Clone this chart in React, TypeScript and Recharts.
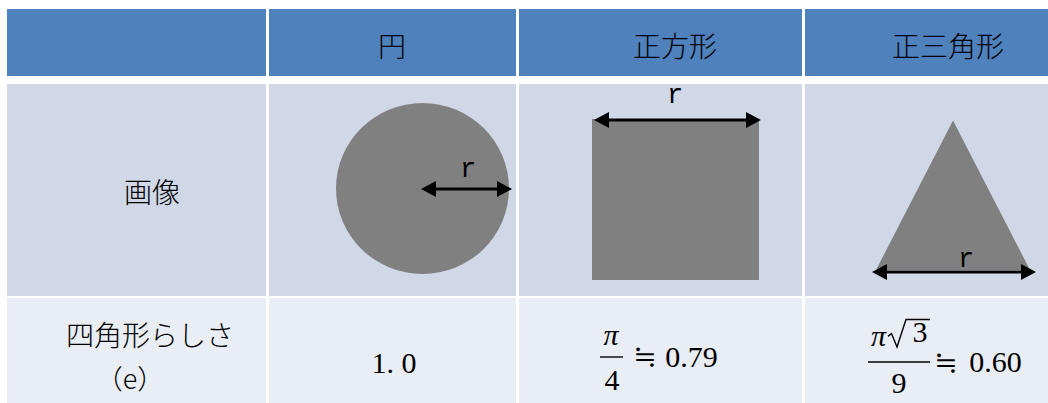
import React from 'react';
import { ComposedChart, XAxis, YAxis, ReferenceArea, ReferenceLine } from 'recharts';

const W = 1048;
const H = 403;

// ---------- content ----------
const columnHeaders = ['', '円', '正方形', '正三角形'];
const rowLabels = ['画像', '四角形らしさ'];
const rowLabelNote = '（e）';
const shapeKinds = ['circle', 'square', 'triangle'];
const radiusLabel = 'r';
const squarenessExact = '1. 0';
const squarenessApprox = ['0.79', '0.60'];
const formulaNumerators = ['π', 'π'];
const formulaRadicand = '3';
const formulaDenominators = ['4', '9'];
const approxSign = '≒';

// ---------- layout (pixel units of the axes) ----------
const colEdges: [number, number][] = [[7, 266], [269, 516], [519, 802], [805, 1048]];
const rowEdges: [number, number][] = [[9, 76], [84, 296], [298, 403]];
const rowFills = ['#4F81BD', '#D0D8E8', '#E9EDF4'];
const SHAPE = '#808080';
const CJK = "'Noto Sans CJK JP', 'Noto Sans CJK SC', sans-serif";
const SERIF = "'Liberation Serif', 'DejaVu Serif', serif";
const MONO = "'Liberation Mono', 'DejaVu Sans Mono', monospace";
const SYM = "'DejaVu Serif', 'DejaVu Sans', serif";

const headerCenters = [0, 392, 675, 948];
const headerY = 45;
const rowLabelPos = [{ x: 152, y: 191 }, { x: 150, y: 334 }];
const notePos = { x: 130, y: 377 };

type TextOpts = { size: number; family: string; italic?: boolean; central?: boolean; weight?: number };
type TextItem = { key: string; value: string; x: number; y: number; o: TextOpts };

const cjk: TextOpts = { size: 28, family: CJK, central: true, weight: 300 };
const rOpts: TextOpts = { size: 27, family: MONO };
const num: TextOpts = { size: 30, family: SERIF };
const piOpts: TextOpts = { size: 30, family: SERIF, italic: true };
const sym: TextOpts = { size: 28, family: SYM };

// x = horizontal centre, y = baseline (or vertical centre for CJK)
const textItems: TextItem[] = [
  ...columnHeaders
    .map((h, i) => ({ key: `h-${i}`, value: h, x: headerCenters[i], y: headerY, o: cjk }))
    .filter((t) => t.value),
  ...rowLabels.map((l, i) => ({ key: `rl-${i}`, value: l, x: rowLabelPos[i].x, y: rowLabelPos[i].y, o: cjk })),
  { key: 'note', value: rowLabelNote, x: notePos.x, y: notePos.y, o: { ...cjk, size: 27 } },
  { key: 'r-0', value: radiusLabel, x: 468, y: 177, o: rOpts },
  { key: 'r-1', value: radiusLabel, x: 675, y: 103, o: rOpts },
  { key: 'r-2', value: radiusLabel, x: 966, y: 267, o: rOpts },
  { key: 'v-0', value: squarenessExact, x: 394, y: 373, o: num },
  { key: 'f1-n', value: formulaNumerators[0], x: 611, y: 345, o: piOpts },
  { key: 'f1-d', value: formulaDenominators[0], x: 612, y: 390, o: num },
  { key: 'f1-eq', value: approxSign, x: 645, y: 366, o: sym },
  { key: 'f1-v', value: squarenessApprox[0], x: 691.5, y: 367, o: num },
  { key: 'f2-n', value: formulaNumerators[1], x: 878.5, y: 346, o: piOpts },
  { key: 'f2-r', value: formulaRadicand, x: 920, y: 342, o: num },
  { key: 'f2-d', value: formulaDenominators[1], x: 899, y: 393, o: num },
  { key: 'f2-eq', value: approxSign, x: 946, y: 372, o: sym },
  { key: 'f2-v', value: squarenessApprox[1], x: 995.5, y: 372, o: num },
];

const applyFont = (el: SVGTextElement | null, o: TextOpts) => {
  if (!el) return;
  el.style.setProperty('font-family', o.family, 'important');
  el.style.setProperty('font-style', o.italic ? 'italic' : 'normal', 'important');
  el.style.setProperty('font-weight', String(o.weight ?? 400), 'important');
  el.style.setProperty('font-size', `${o.size}px`, 'important');
};

const makeTextShape = (t: TextItem) => (p: any) => {
  const { x, y, width, height } = p;
  return (
    <text
      ref={(el) => applyFont(el, t.o)}
      x={x + width / 2}
      y={y + height / 2}
      textAnchor="middle"
      dominantBaseline={t.o.central ? 'central' : 'alphabetic'}
      fill="#000"
      fontSize={t.o.size}
      fontFamily={t.o.family}
      fontStyle={t.o.italic ? 'italic' : 'normal'}
      fontWeight={t.o.weight ?? 400}
    >
      {t.value}
    </text>
  );
};

const ArrowShape = (p: any) => {
  const { x1, y1, x2 } = p;
  const L = 15;
  const hw = 8;
  const left = Math.min(x1, x2);
  const right = Math.max(x1, x2);
  const y = y1;
  return (
    <g>
      <line x1={left + L - 1} y1={y} x2={right - L + 1} y2={y} stroke="#000" strokeWidth={3} />
      <polygon points={`${left},${y} ${left + L},${y - hw} ${left + L},${y + hw}`} fill="#000" />
      <polygon points={`${right},${y} ${right - L},${y - hw} ${right - L},${y + hw}`} fill="#000" />
    </g>
  );
};

const CircleShape = (p: any) => {
  const { x, y, width, height } = p;
  return <ellipse cx={x + width / 2} cy={y + height / 2} rx={width / 2} ry={height / 2} fill={SHAPE} />;
};

const TriangleShape = (p: any) => {
  const { x, y, width, height } = p;
  return (
    <polygon
      points={`${x + width / 2},${y} ${x + width},${y + height} ${x},${y + height}`}
      fill={SHAPE}
    />
  );
};

const RadicalShape = (p: any) => {
  const { x, y, width, height } = p;
  const d = `M ${x} ${y + height * 0.62} L ${x + 3.5} ${y + height * 0.52} L ${x + 9} ${y + height} L ${x + 18} ${y + 0.5} L ${x + width} ${y + 0.5}`;
  return <path d={d} fill="none" stroke="#000" strokeWidth={1.4} strokeLinejoin="miter" />;
};

export default function App() {
  const cells: React.ReactNode[] = [];
  rowEdges.forEach((r, ri) =>
    colEdges.forEach((c, ci) =>
      cells.push(
        <ReferenceArea
          key={`cell-${ri}-${ci}`}
          x1={c[0]}
          x2={c[1]}
          y1={r[0]}
          y2={r[1]}
          fill={rowFills[ri]}
          fillOpacity={1}
          stroke="none"
          ifOverflow="visible"
        />,
      ),
    ),
  );

  const texts = textItems.map((t) => (
    <ReferenceArea
      key={t.key}
      x1={t.x - 0.5}
      x2={t.x + 0.5}
      y1={t.y - 0.5}
      y2={t.y + 0.5}
      ifOverflow="visible"
      shape={makeTextShape(t)}
    />
  ));

  return (
    <div style={{ position: 'absolute', left: 0, top: 0, width: W, height: H, background: '#fff' }}>
      <ComposedChart width={W} height={H} margin={{ top: 0, right: 0, bottom: 0, left: 0 }} data={shapeKinds.map((k) => ({ k }))}>
        <XAxis type="number" dataKey="x" domain={[0, W]} hide allowDataOverflow />
        <YAxis type="number" domain={[0, H]} reversed hide allowDataOverflow />
        {cells}

        {/* circle */}
        <ReferenceArea x1={336} x2={509} y1={103} y2={274} ifOverflow="visible" shape={CircleShape} />
        {/* square */}
        <ReferenceArea x1={592} x2={759} y1={119} y2={280} fill={SHAPE} fillOpacity={1} stroke="none" ifOverflow="visible" />
        {/* triangle */}
        <ReferenceArea x1={876} x2={1030} y1={120.5} y2={270} ifOverflow="visible" shape={TriangleShape} />

        {/* arrows */}
        <ReferenceLine segment={[{ x: 421, y: 189 }, { x: 512, y: 189 }]} ifOverflow="visible" shape={ArrowShape} />
        <ReferenceLine segment={[{ x: 594, y: 120 }, { x: 761, y: 120 }]} ifOverflow="visible" shape={ArrowShape} />
        <ReferenceLine segment={[{ x: 872, y: 272 }, { x: 1036, y: 272 }]} ifOverflow="visible" shape={ArrowShape} />

        {/* fraction bars */}
        <ReferenceLine segment={[{ x: 600, y: 357 }, { x: 623, y: 357 }]} stroke="#000" strokeWidth={1.4} ifOverflow="visible" />
        <ReferenceLine segment={[{ x: 868, y: 362 }, { x: 930, y: 362 }]} stroke="#000" strokeWidth={1.4} ifOverflow="visible" />
        {/* radical */}
        <ReferenceArea x1={888} x2={930} y1={319} y2={347} ifOverflow="visible" shape={RadicalShape} />

        {texts}
      </ComposedChart>
    </div>
  );
}
